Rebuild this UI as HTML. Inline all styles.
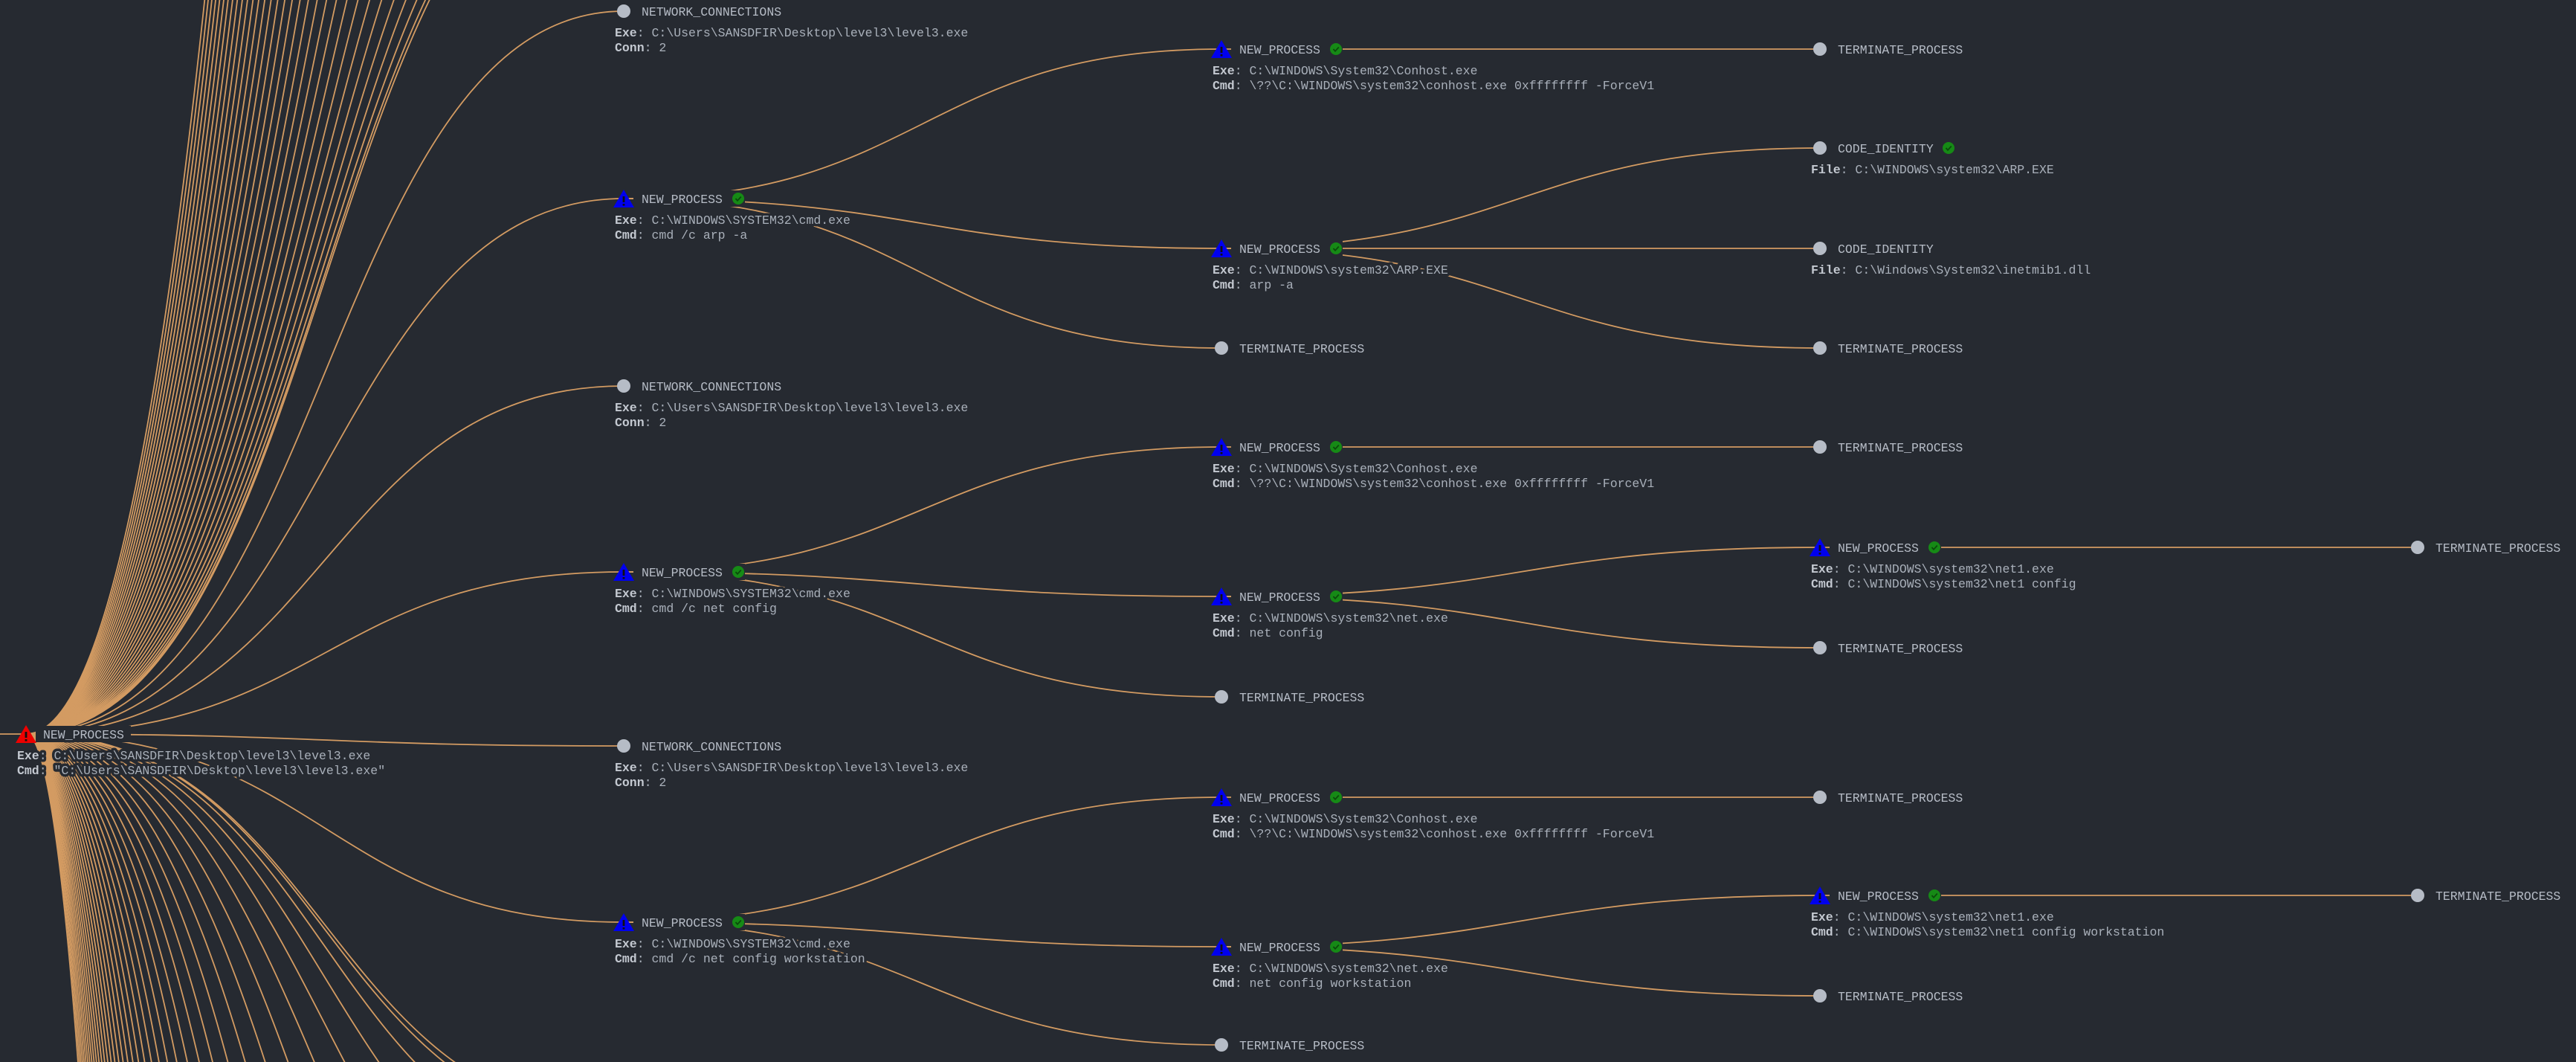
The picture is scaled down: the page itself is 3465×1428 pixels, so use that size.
<!DOCTYPE html>
<html><head><meta charset="utf-8"><style>
html,body{margin:0;padding:0;background:#262a31;width:3465px;height:1428px;overflow:hidden}
svg{display:block;overflow:hidden}
text{font-family:"Liberation Mono",monospace;font-size:16.5px;fill:#a9b0ba;paint-order:stroke;stroke:#262a31;stroke-width:7px;stroke-linejoin:round}
text.l{fill:#b6bcc6}
tspan.b{font-weight:bold;fill:#c3c8d0}
.e{fill:none;stroke:#d39b62;stroke-width:1.8}
.bg{fill:#262a31}
</style></head><body>
<svg id="s" width="3465" height="1428" viewBox="0 0 3465 1428">
<defs>
<g id="tb"><polygon points="-14,12 14,12 0,-12" fill="#0000ee"/><rect x="-1.4" y="-3" width="2.8" height="8" fill="#111"/><rect x="-1.4" y="7" width="2.8" height="2.6" fill="#111"/></g>
<g id="tr"><polygon points="-14,12 14,12 0,-12" fill="#ee0000"/><rect x="-1.4" y="-3" width="2.8" height="8" fill="#111"/><rect x="-1.4" y="7" width="2.8" height="2.6" fill="#111"/></g>
<g id="ck"><circle r="8" fill="#168a16"/><polyline points="-3.5,0 -1,2.8 3.8,-2.5" fill="none" stroke="#0b4a0b" stroke-width="1.8"/></g>
<g id="gc"><circle r="9" fill="#b6bcc6"/></g>
<rect id="rp" x="13" y="-11" width="150" height="22" class="bg"/>
<rect id="rc" x="11" y="-11" width="172" height="22" class="bg"/>
</defs>
<g id="fan"></g>
<g id="edges">
<path class="e" d="M0 987 L35 987"/>
<path class="e" d="M35 987 C437 987,437 15,839 15"/>
<path class="e" d="M35 987 C437 987,437 267,839 267"/>
<path class="e" d="M35 987 C437 987,437 519,839 519"/>
<path class="e" d="M35 987 C437 987,437 769,839 769"/>
<path class="e" d="M35 987 C437 987,437 1003,839 1003"/>
<path class="e" d="M35 987 C437 987,437 1240,839 1240"/>
<path class="e" d="M839 267 C1241 267,1241 66,1643 66"/>
<path class="e" d="M839 267 C1241 267,1241 334,1643 334"/>
<path class="e" d="M839 267 C1241 267,1241 468,1643 468"/>
<path class="e" d="M839 769 C1241 769,1241 601,1643 601"/>
<path class="e" d="M839 769 C1241 769,1241 802,1643 802"/>
<path class="e" d="M839 769 C1241 769,1241 937,1643 937"/>
<path class="e" d="M839 1240 C1241 1240,1241 1072,1643 1072"/>
<path class="e" d="M839 1240 C1241 1240,1241 1273,1643 1273"/>
<path class="e" d="M839 1240 C1241 1240,1241 1405,1643 1405"/>
<path class="e" d="M1643 66 L2448 66"/>
<path class="e" d="M1643 334 C2045 334,2045 199,2448 199"/>
<path class="e" d="M1643 334 L2448 334"/>
<path class="e" d="M1643 334 C2045 334,2045 468,2448 468"/>
<path class="e" d="M1643 601 L2448 601"/>
<path class="e" d="M1643 802 C2045 802,2045 736,2448 736"/>
<path class="e" d="M1643 802 C2045 802,2045 871,2448 871"/>
<path class="e" d="M1643 1072 L2448 1072"/>
<path class="e" d="M1643 1273 C2045 1273,2045 1204,2448 1204"/>
<path class="e" d="M1643 1273 C2045 1273,2045 1339,2448 1339"/>
<path class="e" d="M2448 736 L3252 736"/>
<path class="e" d="M2448 1204 L3252 1204"/>
</g>

<rect x="48" y="976" width="128" height="22" class="bg"/>
<use href="#rp" x="839" y="267"/><use href="#rp" x="839" y="769"/><use href="#rp" x="839" y="1240"/>
<use href="#rp" x="1643" y="66"/><use href="#rp" x="1643" y="334"/><use href="#rp" x="1643" y="601"/>
<use href="#rp" x="1643" y="802"/><use href="#rp" x="1643" y="1072"/><use href="#rp" x="1643" y="1273"/>
<use href="#rp" x="2448" y="736"/><use href="#rp" x="2448" y="1204"/>
<use href="#rc" x="2448" y="199"/><use href="#rc" x="2448" y="334"/>

<use href="#tr" x="35" y="987"/>
<text class="l" x="58" y="993">NEW_PROCESS</text>
<text x="23" y="1021"><tspan class="b">Exe</tspan>: C:\Users\SANSDFIR\Desktop\level3\level3.exe</text>
<text x="23" y="1041"><tspan class="b">Cmd</tspan>: "C:\Users\SANSDFIR\Desktop\level3\level3.exe"</text>

<use href="#gc" x="839" y="15"/>
<text class="l" x="863" y="21">NETWORK_CONNECTIONS</text>
<text x="827" y="49"><tspan class="b">Exe</tspan>: C:\Users\SANSDFIR\Desktop\level3\level3.exe</text>
<text x="827" y="69"><tspan class="b">Conn</tspan>: 2</text>

<use href="#tb" x="839" y="267"/>
<text class="l" x="863" y="273">NEW_PROCESS</text><use href="#ck" x="993" y="267"/>
<text x="827" y="301"><tspan class="b">Exe</tspan>: C:\WINDOWS\SYSTEM32\cmd.exe</text>
<text x="827" y="321"><tspan class="b">Cmd</tspan>: cmd /c arp -a</text>

<use href="#gc" x="839" y="519"/>
<text class="l" x="863" y="525">NETWORK_CONNECTIONS</text>
<text x="827" y="553"><tspan class="b">Exe</tspan>: C:\Users\SANSDFIR\Desktop\level3\level3.exe</text>
<text x="827" y="573"><tspan class="b">Conn</tspan>: 2</text>

<use href="#tb" x="839" y="769"/>
<text class="l" x="863" y="775">NEW_PROCESS</text><use href="#ck" x="993" y="769"/>
<text x="827" y="803"><tspan class="b">Exe</tspan>: C:\WINDOWS\SYSTEM32\cmd.exe</text>
<text x="827" y="823"><tspan class="b">Cmd</tspan>: cmd /c net config</text>

<use href="#gc" x="839" y="1003"/>
<text class="l" x="863" y="1009">NETWORK_CONNECTIONS</text>
<text x="827" y="1037"><tspan class="b">Exe</tspan>: C:\Users\SANSDFIR\Desktop\level3\level3.exe</text>
<text x="827" y="1057"><tspan class="b">Conn</tspan>: 2</text>

<use href="#tb" x="839" y="1240"/>
<text class="l" x="863" y="1246">NEW_PROCESS</text><use href="#ck" x="993" y="1240"/>
<text x="827" y="1274"><tspan class="b">Exe</tspan>: C:\WINDOWS\SYSTEM32\cmd.exe</text>
<text x="827" y="1294"><tspan class="b">Cmd</tspan>: cmd /c net config workstation</text>

<use href="#tb" x="1643" y="66"/>
<text class="l" x="1667" y="72">NEW_PROCESS</text><use href="#ck" x="1797" y="66"/>
<text x="1631" y="100"><tspan class="b">Exe</tspan>: C:\WINDOWS\System32\Conhost.exe</text>
<text x="1631" y="120"><tspan class="b">Cmd</tspan>: \??\C:\WINDOWS\system32\conhost.exe 0xffffffff -ForceV1</text>

<use href="#tb" x="1643" y="334"/>
<text class="l" x="1667" y="340">NEW_PROCESS</text><use href="#ck" x="1797" y="334"/>
<text x="1631" y="368"><tspan class="b">Exe</tspan>: C:\WINDOWS\system32\ARP.EXE</text>
<text x="1631" y="388"><tspan class="b">Cmd</tspan>: arp -a</text>

<use href="#gc" x="1643" y="468"/>
<text class="l" x="1667" y="474">TERMINATE_PROCESS</text>

<use href="#tb" x="1643" y="601"/>
<text class="l" x="1667" y="607">NEW_PROCESS</text><use href="#ck" x="1797" y="601"/>
<text x="1631" y="635"><tspan class="b">Exe</tspan>: C:\WINDOWS\System32\Conhost.exe</text>
<text x="1631" y="655"><tspan class="b">Cmd</tspan>: \??\C:\WINDOWS\system32\conhost.exe 0xffffffff -ForceV1</text>

<use href="#tb" x="1643" y="802"/>
<text class="l" x="1667" y="808">NEW_PROCESS</text><use href="#ck" x="1797" y="802"/>
<text x="1631" y="836"><tspan class="b">Exe</tspan>: C:\WINDOWS\system32\net.exe</text>
<text x="1631" y="856"><tspan class="b">Cmd</tspan>: net config</text>

<use href="#gc" x="1643" y="937"/>
<text class="l" x="1667" y="943">TERMINATE_PROCESS</text>

<use href="#tb" x="1643" y="1072"/>
<text class="l" x="1667" y="1078">NEW_PROCESS</text><use href="#ck" x="1797" y="1072"/>
<text x="1631" y="1106"><tspan class="b">Exe</tspan>: C:\WINDOWS\System32\Conhost.exe</text>
<text x="1631" y="1126"><tspan class="b">Cmd</tspan>: \??\C:\WINDOWS\system32\conhost.exe 0xffffffff -ForceV1</text>

<use href="#tb" x="1643" y="1273"/>
<text class="l" x="1667" y="1279">NEW_PROCESS</text><use href="#ck" x="1797" y="1273"/>
<text x="1631" y="1307"><tspan class="b">Exe</tspan>: C:\WINDOWS\system32\net.exe</text>
<text x="1631" y="1327"><tspan class="b">Cmd</tspan>: net config workstation</text>

<use href="#gc" x="1643" y="1405"/>
<text class="l" x="1667" y="1411">TERMINATE_PROCESS</text>

<use href="#gc" x="2448" y="66"/>
<text class="l" x="2472" y="72">TERMINATE_PROCESS</text>

<use href="#gc" x="2448" y="199"/>
<text class="l" x="2472" y="205">CODE_IDENTITY</text><use href="#ck" x="2621" y="199"/>
<text x="2436" y="233"><tspan class="b">File</tspan>: C:\WINDOWS\system32\ARP.EXE</text>

<use href="#gc" x="2448" y="334"/>
<text class="l" x="2472" y="340">CODE_IDENTITY</text>
<text x="2436" y="368"><tspan class="b">File</tspan>: C:\Windows\System32\inetmib1.dll</text>

<use href="#gc" x="2448" y="468"/>
<text class="l" x="2472" y="474">TERMINATE_PROCESS</text>

<use href="#gc" x="2448" y="601"/>
<text class="l" x="2472" y="607">TERMINATE_PROCESS</text>

<use href="#tb" x="2448" y="736"/>
<text class="l" x="2472" y="742">NEW_PROCESS</text><use href="#ck" x="2602" y="736"/>
<text x="2436" y="770"><tspan class="b">Exe</tspan>: C:\WINDOWS\system32\net1.exe</text>
<text x="2436" y="790"><tspan class="b">Cmd</tspan>: C:\WINDOWS\system32\net1 config</text>

<use href="#gc" x="2448" y="871"/>
<text class="l" x="2472" y="877">TERMINATE_PROCESS</text>

<use href="#gc" x="2448" y="1072"/>
<text class="l" x="2472" y="1078">TERMINATE_PROCESS</text>

<use href="#tb" x="2448" y="1204"/>
<text class="l" x="2472" y="1210">NEW_PROCESS</text><use href="#ck" x="2602" y="1204"/>
<text x="2436" y="1238"><tspan class="b">Exe</tspan>: C:\WINDOWS\system32\net1.exe</text>
<text x="2436" y="1258"><tspan class="b">Cmd</tspan>: C:\WINDOWS\system32\net1 config workstation</text>

<use href="#gc" x="2448" y="1339"/>
<text class="l" x="2472" y="1345">TERMINATE_PROCESS</text>

<use href="#gc" x="3252" y="736"/>
<text class="l" x="3276" y="742">TERMINATE_PROCESS</text>
<use href="#gc" x="3252" y="1204"/>
<text class="l" x="3276" y="1210">TERMINATE_PROCESS</text>
</svg>
<script>
(function(){
var g=document.getElementById('fan'),h='';
function p(y){h+='<path class="e" d="M35 987 C437 987,437 '+y.toFixed(1)+',839 '+y.toFixed(1)+'"/>';}
for(var k=0;k<32;k++)p(-235-5000*Math.pow(k/31,1.7));
for(var k=0;k<40;k++)p(1500+40000*Math.pow(k/39,2.2));
g.innerHTML=h;
})();
</script>
</body></html>
